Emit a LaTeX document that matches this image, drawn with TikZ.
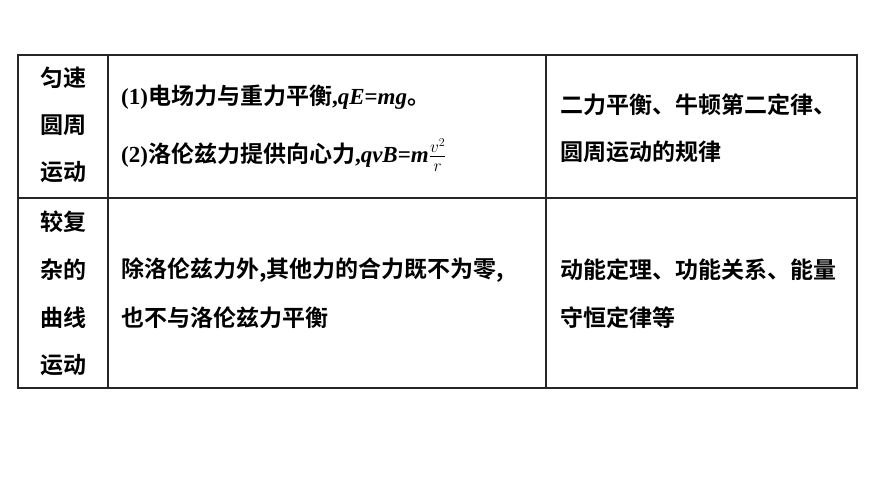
\documentclass[tikz,border=0pt]{standalone}
\usepackage{fontspec}
\setmainfont{Liberation Serif}
\newfontfamily\cjk{Noto Sans CJK SC}[BoldFont={* Bold}]
\begin{document}
\begin{tikzpicture}[x=1pt,y=-1pt,
  txt/.style={anchor=west,inner sep=0pt,font=\fontsize{23}{25}\selectfont\bfseries},
  cell/.style={anchor=center,inner sep=0pt,font=\fontsize{23}{25}\selectfont\bfseries},
  grid/.style={line width=1.2pt,black!85}]
\useasboundingbox (0,0) rectangle (870,489);
\draw[grid] (18,55) rectangle (857,388);
\draw[grid] (18,198) -- (857,198);
\draw[grid] (108,55) -- (108,388);
\draw[grid] (546,55) -- (546,388);
\node[cell] (a1) at (63,78) {\cjk 匀速};
\node[cell] (a2) at (63,125) {\cjk 圆周};
\node[cell] (a3) at (63,172) {\cjk 运动};
\node[cell] (b1) at (63,222) {\cjk 较复};
\node[cell] (b2) at (63,270) {\cjk 杂的};
\node[cell] (b3) at (63,318) {\cjk 曲线};
\node[cell] (b4) at (63,365) {\cjk 运动};
\node[txt] (c1) at (121,97) {(1){\cjk 电场力与重力平衡},\textit{qE}=\textit{mg}{\cjk 。}};
\node[txt] (c2) at (121,155) {(2){\cjk 洛伦兹力提供向心力},\textit{qvB}=\textit{m}$\frac{\scriptstyle v^2}{\scriptstyle r}$};
\node[txt] (d1) at (560,105) {\cjk 二力平衡、牛顿第二定律、};
\node[txt] (d2) at (560,152) {\cjk 圆周运动的规律};
\node[txt] (e1) at (121,270) {\cjk 除洛伦兹力外,其他力的合力既不为零,};
\node[txt] (e2) at (121,318) {\cjk 也不与洛伦兹力平衡};
\node[txt] (f1) at (560,270) {\cjk 动能定理、功能关系、能量};
\node[txt] (f2) at (560,318) {\cjk 守恒定律等};
\end{tikzpicture}
\end{document}
